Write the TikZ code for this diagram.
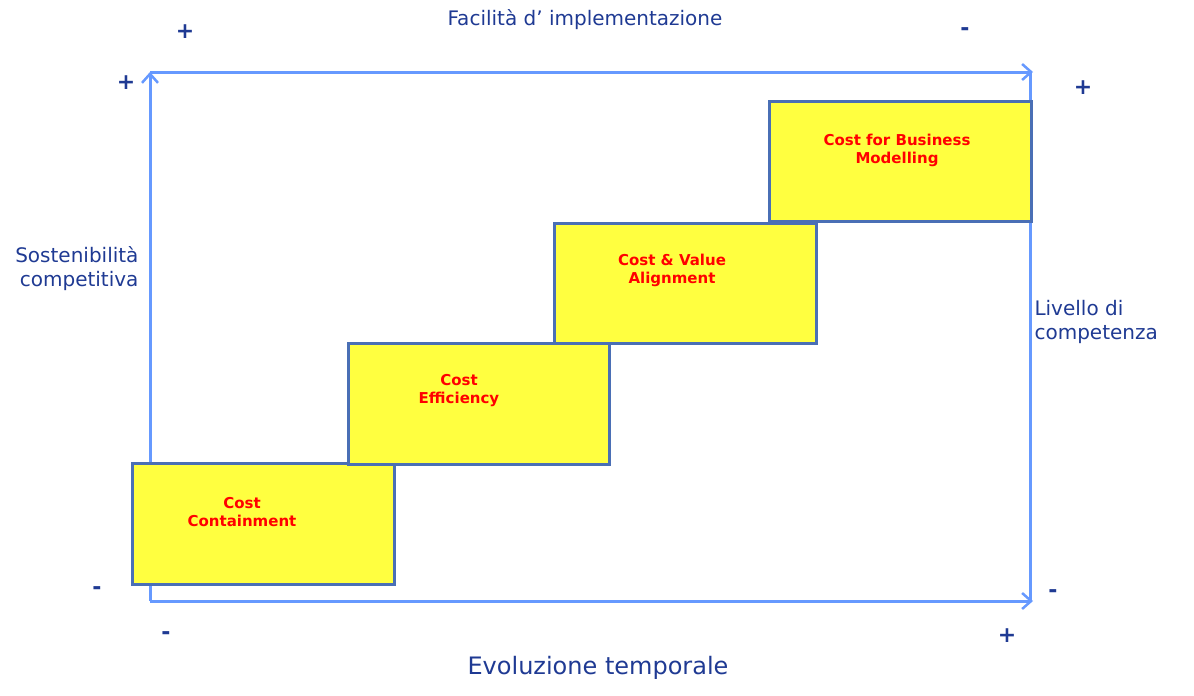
\documentclass[tikz,border=0pt]{standalone}
\usepackage{fontspec}
\setmainfont{DejaVu Sans}
\usetikzlibrary{arrows.meta}
\definecolor{axis}{HTML}{6699FF}
\definecolor{lab}{HTML}{1F3A93}
\definecolor{boxb}{HTML}{4A6FB5}
\definecolor{boxf}{HTML}{FFFF40}
\begin{document}
\begin{tikzpicture}[x=1pt,y=-1pt,
  ax/.style={draw=axis,line width=3pt},
  arr/.style={-{Straight Barb[length=9pt,width=16pt,line width=2.5pt]}},
  stepbox/.style={draw=boxb,line width=3pt,fill=boxf},
  boxtxt/.style={text=red,font=\fontsize{15}{18}\selectfont\bfseries,align=center},
  lbl/.style={text=lab,font=\fontsize{20}{24}\selectfont},
  sgn/.style={text=lab,font=\fontsize{22}{22}\selectfont\bfseries}]
\useasboundingbox (0,0) rectangle (1194,696);
\coordinate (bl) at (150,601);
\coordinate (tl) at (150,72);
\coordinate (tr) at (1033,72);
\coordinate (br) at (1030,601);
\coordinate (rt) at (1030,72);
\draw[ax] (rt) -- (br);
\draw[ax,arr] (bl) -- (tl);
\draw[ax,arr] (150,72) -- (tr);
\draw[ax,arr] (150,601) -- (1033,601);
\node[stepbox,minimum width=262pt,minimum height=121pt,anchor=north west] (b1) at (131,462) {};
\node[stepbox,minimum width=261pt,minimum height=121pt,anchor=north west] (b2) at (347,342) {};
\node[stepbox,minimum width=262pt,minimum height=120pt,anchor=north west] (b3) at (553,222) {};
\node[stepbox,minimum width=262pt,minimum height=120pt,anchor=north west] (b4) at (768,100) {};
\node[boxtxt] (t1) at (242,512) {Cost\\Containment};
\node[boxtxt] (t2) at (459,391) {Cost\\Efficiency};
\node[boxtxt] (t3) at (672,270) {Cost \& Value\\Alignment};
\node[boxtxt] (t4) at (897,150) {Cost for Business\\Modelling};
\node[lbl] (top) at (585,20) {Facilità d’ implementazione};
\node[lbl,font=\fontsize{24}{28}\selectfont] (bot) at (598,668) {Evoluzione temporale};
\node[lbl,align=right,anchor=east] (left) at (142,269) {Sostenibilità\\competitiva};
\node[lbl,align=left,anchor=west] (right) at (1031,322) {Livello di\\competenza};
\node[sgn] (s1) at (185,32) {+};
\node[sgn] (s2) at (965,32) {-};
\node[sgn] (s3) at (126,83) {+};
\node[sgn] (s4) at (1083,88) {+};
\node[sgn] (s5) at (97,591) {-};
\node[sgn] (s6) at (1053,594) {-};
\node[sgn] (s7) at (166,636) {-};
\node[sgn] (s8) at (1007,636) {+};
\end{tikzpicture}
\end{document}
